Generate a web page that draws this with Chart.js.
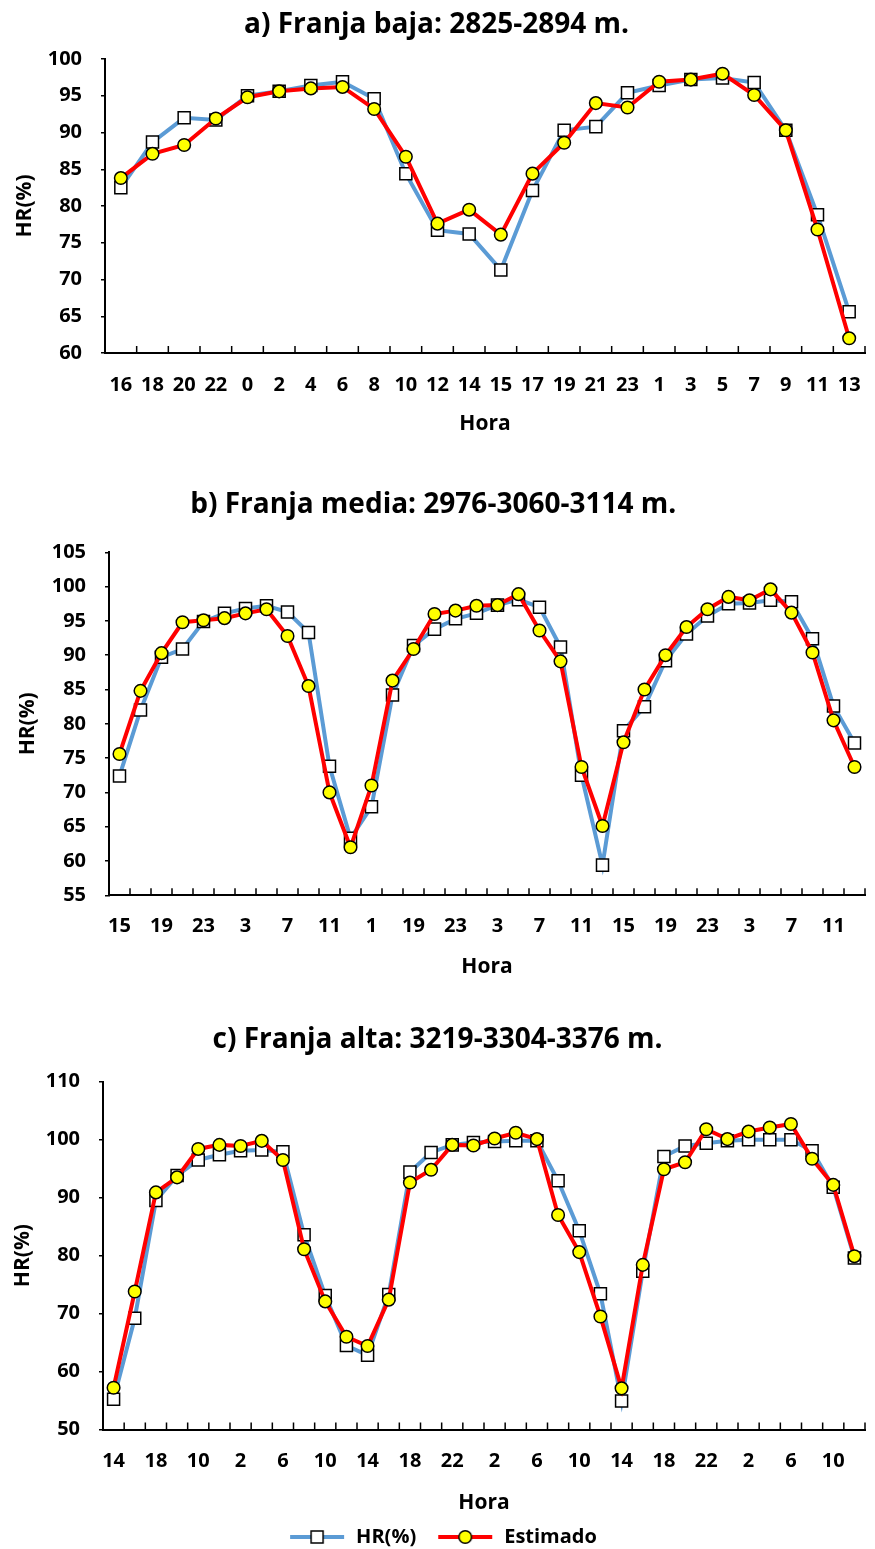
<!DOCTYPE html>
<html>
<head>
<meta charset="utf-8">
<script src="https://cdn.jsdelivr.net/npm/chart.js@4.4.1/dist/chart.umd.min.js"></script>
<style>
  body { margin: 0; background: #fff; width: 875px; height: 1549px; position: relative; overflow: hidden; }
  .panel { position: absolute; left: 0; width: 875px; }
</style>
</head>
<body>
<div class="panel" style="top:0;height:440px"><canvas id="chartA"></canvas></div>
<div class="panel" style="top:480px;height:504px"><canvas id="chartB"></canvas></div>
<div class="panel" style="top:1015px;height:542px"><canvas id="chartC"></canvas></div>
<script>
// Franja baja
const horasA = ['16','18','20','22','0','2','4','6','8','10','12','14','15','17','19','21','23','1','3','5','7','9','11','13'];
const hrA  = [82.5,88.7,92.0,91.7,95.0,95.6,96.4,96.9,94.6,84.4,76.7,76.2,71.3,82.1,90.3,90.8,95.4,96.4,97.2,97.4,96.8,90.3,78.8,65.6];
const estA = [83.8,87.1,88.3,91.9,94.8,95.6,96.0,96.2,93.2,86.7,77.6,79.5,76.1,84.4,88.6,94.0,93.4,96.9,97.2,98.0,95.1,90.3,76.8,62.0];

// Franja media
const horasB = ['15','17','19','21','23','1','3','5','7','9','11','13','1','17','19','21','23','1','3','5','7','9','11','13',
                '15','17','19','21','23','1','3','5','7','9','11','13'];
const hrB  = [72.4,82.0,89.7,90.9,94.9,96.1,96.8,97.2,96.3,93.3,73.8,63.3,67.9,84.2,91.4,93.8,95.3,96.1,
              97.3,98.1,97.0,91.2,72.5,59.4,79.0,82.5,89.2,93.1,95.7,97.5,97.6,98.0,97.8,92.4,82.6,77.2];
const estB = [75.6,84.8,90.3,94.8,95.1,95.4,96.1,96.7,92.8,85.5,70.0,62.0,71.0,86.3,90.9,96.0,96.5,97.2,
              97.3,98.9,93.6,89.1,73.7,65.1,77.3,85.0,90.0,94.1,96.7,98.5,98.0,99.6,96.2,90.4,80.5,73.7];

// Franja alta
const horasC = ['14','16','18','20','10','0','2','4','6','8','10','12','14','16','18','20','22','0',
                '2','4','6','8','10','12','14','16','18','20','22','0','2','4','6','8','10','12'];
const hrC  = [55.2,69.2,89.5,93.8,96.5,97.4,98.1,98.2,97.9,83.6,73.1,64.5,62.8,73.3,94.4,97.8,99.1,99.5,
              99.7,99.8,99.8,92.9,84.3,73.4,54.9,77.3,97.1,98.9,99.4,99.8,100.0,100.0,100.0,98.1,91.8,79.6];
const estC = [57.2,73.8,90.9,93.5,98.4,99.1,98.9,99.8,96.5,81.1,72.1,66.0,64.4,72.4,92.6,94.8,99.1,99.0,
              100.2,101.2,100.1,87.0,80.6,69.5,57.1,78.4,94.9,96.1,101.8,100.1,101.4,102.1,102.7,96.7,92.2,79.9];

const FONT = "'Open Sans', Lato, sans-serif";
const AZUL = '#5B9BD5';
const ROJO = '#FF0000';
const AMARILLO = '#FFFF00';

Chart.defaults.font.family = FONT;
Chart.defaults.color = '#000';

// short tick marks pointing up from the x axis, at category boundaries
const marcasX = {
  id: 'marcasX',
  beforeDatasetsDraw(chart) {
    const x = chart.scales.x;
    const n = chart.data.labels.length;
    if (n < 2) return;
    const half = (x.getPixelForTick(1) - x.getPixelForTick(0)) / 2;
    const ctx = chart.ctx;
    const y0 = chart.chartArea.bottom;
    ctx.save();
    ctx.strokeStyle = '#000';
    ctx.lineWidth = 1.5;
    ctx.beginPath();
    for (let i = 0; i <= n; i++) {
      const px = i < n ? x.getPixelForTick(i) - half : x.getPixelForTick(n - 1) + half;
      ctx.moveTo(px, y0);
      ctx.lineTo(px, y0 - 7);
    }
    ctx.stroke();
    ctx.restore();
  }
};

// legend swatch: line with the marker in the middle
function muestra(color, estilo, relleno) {
  const c = document.createElement('canvas');
  c.width = 68; c.height = 18;
  const g = c.getContext('2d');
  g.strokeStyle = color; g.lineWidth = 4;
  g.beginPath(); g.moveTo(12, 9); g.lineTo(66, 9); g.stroke();
  g.fillStyle = relleno; g.strokeStyle = '#000'; g.lineWidth = 1.5;
  if (estilo === 'rect') {
    g.fillRect(33, 3, 12, 12); g.strokeRect(33, 3, 12, 12);
  } else {
    g.beginPath(); g.arc(39, 9, 6.3, 0, Math.PI * 2); g.fill(); g.stroke();
  }
  return c;
}
const muestras = [muestra(AZUL, 'rect', '#fff'), muestra(ROJO, 'circle', AMARILLO)];

function grafico(id, titulo, horas, hr, est, p) {
  const etiqueta = { size: 20, weight: 'bold' };
  const ejes = { size: 21, weight: 'bold' };
  new Chart(document.getElementById(id), {
    type: 'line',
    data: {
      labels: horas,
      datasets: [
        {
          label: 'HR(%)', data: hr, order: 1,
          borderColor: AZUL, borderWidth: 4, tension: 0,
          pointStyle: 'rect', pointRadius: 8.5, pointBackgroundColor: '#fff',
          pointBorderColor: '#000', pointBorderWidth: 1.5
        },
        {
          label: 'Estimado', data: est, order: 0,
          borderColor: ROJO, borderWidth: 4, tension: 0,
          pointStyle: 'circle', pointRadius: 6.3, pointBackgroundColor: AMARILLO,
          pointBorderColor: '#000', pointBorderWidth: 1.5
        }
      ]
    },
    options: {
      responsive: true,
      maintainAspectRatio: false,
      animation: false,
      layout: { padding: { left: 0, right: p.right, top: 0, bottom: 0 } },
      plugins: {
        title: {
          display: true, text: titulo, color: '#000',
          font: { size: 28, weight: 'bold' },
          padding: { top: p.titleTop, bottom: p.titleBottom }
        },
        legend: {
          display: p.legend,
          position: 'bottom',
          labels: {
            usePointStyle: true,
            pointStyleWidth: 68,
            padding: 10,
            color: '#000',
            font: { size: 20, weight: 'bold' },
            sort: (a, b) => a.datasetIndex - b.datasetIndex,
            generateLabels(chart) {
              const items = Chart.defaults.plugins.legend.labels.generateLabels(chart);
              items.forEach(it => { it.pointStyle = muestras[it.datasetIndex]; });
              return items;
            }
          }
        },
        tooltip: { enabled: false }
      },
      scales: {
        x: {
          offset: true,
          grid: { display: false },
          border: { display: true, color: '#000', width: 2 },
          ticks: {
            autoSkip: false, maxRotation: 0, minRotation: 0,
            color: '#000', font: etiqueta, padding: p.tickPad,
            callback: (v, i) => (i % p.paso === 0 ? horas[i] : '')
          },
          title: {
            display: true, text: 'Hora', color: '#000',
            font: ejes,
            padding: { top: 0, bottom: p.horaPad }
          },
          afterFit(s) { s.height = p.xHeight; }
        },
        y: {
          min: p.min, max: p.max,
          grid: { drawOnChartArea: false, color: '#000', lineWidth: 1.5, tickLength: 4 },
          border: { display: true, color: '#000', width: 2 },
          ticks: { stepSize: p.step, color: '#000', font: etiqueta, padding: 19 },
          title: {
            display: true, text: 'HR(%)', color: '#000',
            font: ejes,
            padding: { top: p.hrPad, bottom: 0 }
          },
          afterFit(s) { s.width = p.yWidth; }
        }
      }
    },
    plugins: [marcasX]
  });
}

grafico('chartA', 'a) Franja baja: 2825-2894 m.', horasA, hrA, estA,
  { min: 60, max: 100, step: 5, paso: 1, right: 2, titleTop: 8.2, titleBottom: 17.2,
    xHeight: 87, tickPad: 12, horaPad: 3.5, yWidth: 105, hrPad: 12, legend: false });

grafico('chartB', 'b) Franja media: 2976-3060-3114 m.', horasB, hrB, estB,
  { min: 55, max: 105, step: 5, paso: 2, right: 8.5, titleTop: 8.2, titleBottom: 30.5,
    xHeight: 88.7, tickPad: 11, horaPad: 4.5, yWidth: 109, hrPad: 15, legend: false });

grafico('chartC', 'c) Franja alta: 3219-3304-3376 m.', horasC, hrC, estC,
  { min: 50, max: 110, step: 10, paso: 2, right: 0, titleTop: 8.2, titleBottom: 24.9,
    xHeight: 87.5, tickPad: 12, horaPad: 1.5, yWidth: 103, hrPad: 10, legend: true });
</script>
</body>
</html>
